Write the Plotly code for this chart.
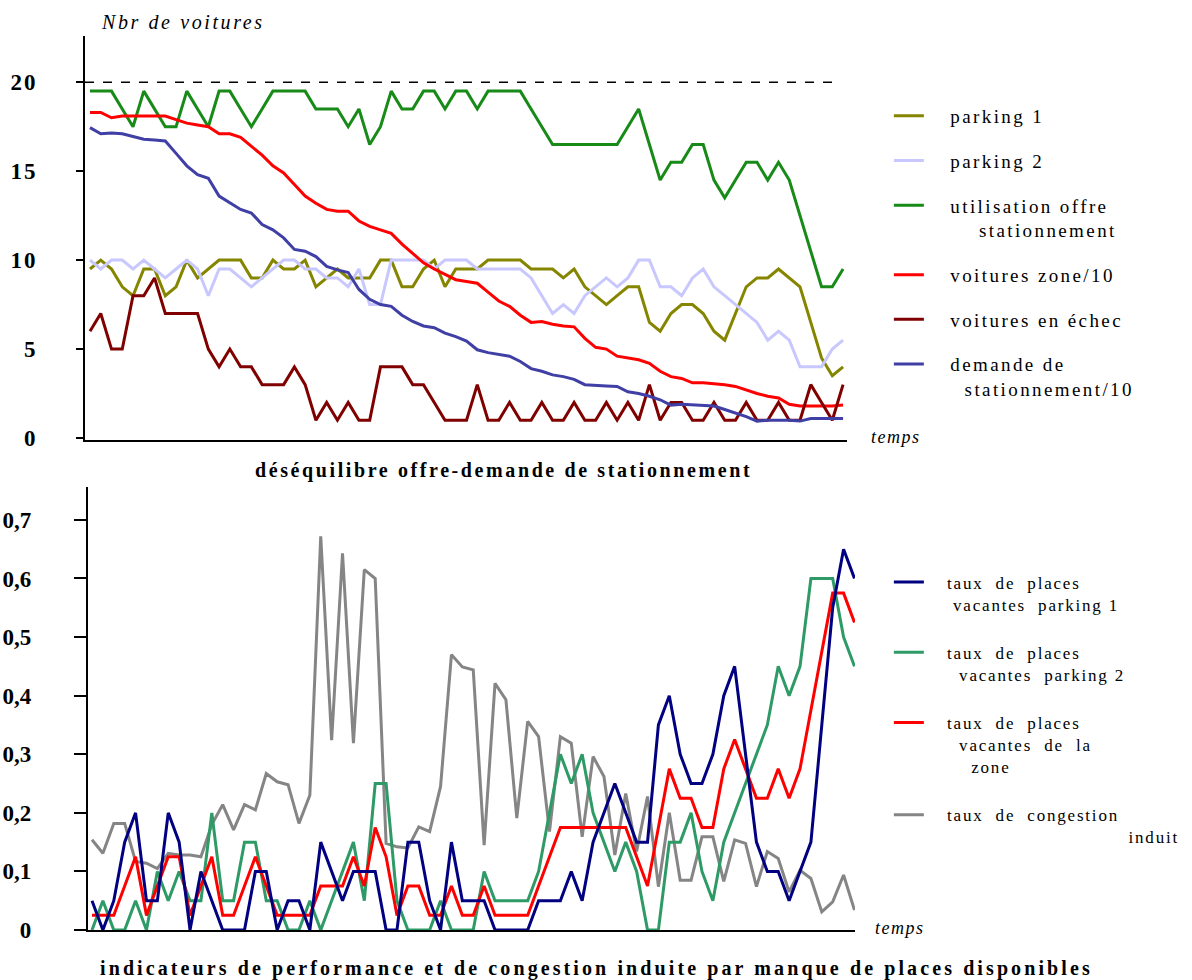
import plotly.graph_objects as go

# time steps (same for both panels)
t = list(range(71))
capacity = 20

# --- top panel : déséquilibre offre-demande ---
parking1 = [9.5, 10, 9.5, 8.5, 8, 9.5, 9.5, 8, 8.5, 10,
            9, 9.5, 10, 10, 10, 9, 9, 10, 9.5, 9.5,
            10, 8.5, 9, 9.5, 9, 9, 9, 10, 10, 8.5,
            8.5, 9.5, 10, 8.5, 9.5, 9.5, 9.5, 10, 10, 10,
            10, 9.5, 9.5, 9.5, 9, 9.5, 8.5, 8, 7.5, 8,
            8.5, 8.5, 6.5, 6, 7, 7.5, 7.5, 7, 6, 5.5,
            7, 8.5, 9, 9, 9.5, 9, 8.5, 6.5, 4.5, 3.5,
            4]
parking2 = [10, 9.5, 10, 10, 9.5, 10, 9.5, 9, 9.5, 10,
            9.5, 8, 9.5, 9.5, 9, 8.5, 9, 9.5, 10, 10,
            9.5, 9.5, 9, 9, 8.5, 9.5, 7.5, 7.5, 10, 10,
            10, 10, 9.5, 10, 10, 10, 9.5, 9.5, 9.5, 9.5,
            9.5, 9, 8, 7, 7.5, 7, 8, 8.5, 9, 8.5,
            9, 10, 10, 8.5, 8.5, 8, 9, 9.5, 8.5, 8,
            7.5, 7, 6.5, 5.5, 6, 5.5, 4, 4, 4, 5,
            5.5]
utilisation = [19.5, 19.5, 19.5, 18.5, 17.5, 19.5, 18.5, 17.5, 17.5, 19.5,
               18.5, 17.5, 19.5, 19.5, 18.5, 17.5, 18.5, 19.5, 19.5, 19.5,
               19.5, 18.5, 18.5, 18.5, 17.5, 18.5, 16.5, 17.5, 19.5, 18.5,
               18.5, 19.5, 19.5, 18.5, 19.5, 19.5, 18.5, 19.5, 19.5, 19.5,
               19.5, 18.5, 17.5, 16.5, 16.5, 16.5, 16.5, 16.5, 16.5, 16.5,
               17.5, 18.5, 16.5, 14.5, 15.5, 15.5, 16.5, 16.5, 14.5, 13.5,
               14.5, 15.5, 15.5, 14.5, 15.5, 14.5, 12.5, 10.5, 8.5, 8.5,
               9.5]
voitures_zone = [18.3, 18.3, 18.0, 18.1, 18.1, 18.1, 18.1, 18.1, 17.9, 17.7,
                 17.6, 17.5, 17.1, 17.1, 16.9, 16.4, 15.9, 15.3, 14.9, 14.25,
                 13.6, 13.2, 12.85, 12.75, 12.75, 12.2, 11.9, 11.7, 11.5, 10.9,
                 10.4, 9.85, 9.5, 9.2, 8.9, 8.8, 8.7, 8.2, 7.7, 7.4,
                 6.9, 6.5, 6.55, 6.4, 6.3, 6.25, 5.6, 5.1, 5.0, 4.6,
                 4.5, 4.4, 4.2, 3.75, 3.45, 3.35, 3.1, 3.1, 3.05, 3.0,
                 2.9, 2.7, 2.5, 2.35, 2.25, 1.9, 1.8, 1.8, 1.8, 1.8,
                 1.85]
echec = [6, 7, 5, 5, 8, 8, 9, 7, 7, 7,
         7, 5, 4, 5, 4, 4, 3, 3, 3, 4,
         3, 1, 2, 1, 2, 1, 1, 4, 4, 4,
         3, 3, 2, 1, 1, 1, 3, 1, 1, 2,
         1, 1, 2, 1, 1, 2, 1, 1, 2, 1,
         2, 1, 3, 1, 2, 2, 1, 1, 2, 1,
         1, 2, 1, 1, 2, 1, 1, 3, 2, 1,
         3]
demande = [17.45, 17.1, 17.15, 17.1, 16.95, 16.8, 16.75, 16.7, 16.0, 15.3,
           14.8, 14.6, 13.6, 13.2, 12.85, 12.65, 12.0, 11.7, 11.25, 10.6,
           10.5, 10.2, 9.65, 9.45, 9.3, 8.35, 7.8, 7.5, 7.4, 6.9,
           6.55, 6.3, 6.2, 5.9, 5.7, 5.45, 4.96, 4.8, 4.7, 4.6,
           4.3, 3.9, 3.75, 3.55, 3.45, 3.3, 3.0, 2.95, 2.93, 2.9,
           2.6, 2.5, 2.35, 2.15, 1.85, 1.9, 1.86, 1.86, 1.8, 1.6,
           1.4, 1.2, 0.95, 1.0, 1.0, 1.0, 0.95, 1.1, 1.1, 1.1,
           1.1]
top_ticks = [0, 5, 10, 15, 20]

# --- bottom panel : indicateurs ---
vac_p1 = [0.05, 0, 0.05, 0.15, 0.2, 0.05, 0.05, 0.2, 0.15, 0,
          0.1, 0.05, 0, 0, 0, 0.1, 0.1, 0, 0.05, 0.05,
          0, 0.15, 0.1, 0.05, 0.1, 0.1, 0.1, 0, 0, 0.15,
          0.15, 0.05, 0, 0.15, 0.05, 0.05, 0.05, 0, 0, 0,
          0, 0.05, 0.05, 0.05, 0.1, 0.05, 0.15, 0.2, 0.25, 0.2,
          0.15, 0.15, 0.35, 0.4, 0.3, 0.25, 0.25, 0.3, 0.4, 0.45,
          0.3, 0.15, 0.1, 0.1, 0.05, 0.1, 0.15, 0.35, 0.55, 0.65,
          0.6]
vac_p2 = [0, 0.05, 0, 0, 0.05, 0, 0.1, 0.05, 0.1, 0.05,
          0.05, 0.2, 0.05, 0.05, 0.15, 0.15, 0.05, 0.05, 0, 0,
          0.05, 0, 0.05, 0.1, 0.15, 0.05, 0.25, 0.25, 0.05, 0,
          0, 0, 0.05, 0, 0, 0, 0.1, 0.05, 0.05, 0.05,
          0.05, 0.1, 0.2, 0.3, 0.25, 0.3, 0.2, 0.15, 0.1, 0.15,
          0.1, 0, 0, 0.15, 0.15, 0.2, 0.1, 0.05, 0.15, 0.2,
          0.25, 0.3, 0.35, 0.45, 0.4, 0.45, 0.6, 0.6, 0.6, 0.5,
          0.45]
vac_zone = [0.025, 0.025, 0.025, 0.075, 0.125, 0.025, 0.075, 0.125, 0.125, 0.025,
            0.075, 0.125, 0.025, 0.025, 0.075, 0.125, 0.075, 0.025, 0.025, 0.025,
            0.025, 0.075, 0.075, 0.075, 0.125, 0.075, 0.175, 0.125, 0.025, 0.075,
            0.075, 0.025, 0.025, 0.075, 0.025, 0.025, 0.075, 0.025, 0.025, 0.025,
            0.025, 0.075, 0.125, 0.175, 0.175, 0.175, 0.175, 0.175, 0.175, 0.175,
            0.125, 0.075, 0.175, 0.275, 0.225, 0.225, 0.175, 0.175, 0.275, 0.325,
            0.275, 0.225, 0.225, 0.275, 0.225, 0.275, 0.375, 0.475, 0.575, 0.575,
            0.525]
congestion = [0.154, 0.131, 0.182, 0.182, 0.117, 0.114, 0.105, 0.131, 0.128, 0.128,
              0.125, 0.18, 0.214, 0.171, 0.214, 0.205, 0.267, 0.253, 0.248, 0.182,
              0.23, 0.672, 0.324, 0.643, 0.319, 0.615, 0.60, 0.148, 0.142, 0.14,
              0.176, 0.168, 0.245, 0.47, 0.449, 0.444, 0.145, 0.421, 0.393, 0.191,
              0.356, 0.33, 0.168, 0.33, 0.319, 0.159, 0.296, 0.262, 0.128, 0.233,
              0.134, 0.228, 0.074, 0.2, 0.085, 0.085, 0.159, 0.159, 0.083, 0.154,
              0.148, 0.074, 0.134, 0.122, 0.065, 0.102, 0.088, 0.031, 0.048, 0.094,
              0.034]

bottom_ticks = [0, 0.1, 0.2, 0.3, 0.4, 0.5, 0.6, 0.7]
bottom_ticktext = ["0", "0,1", "0,2", "0,3", "0,4", "0,5", "0,6", "0,7"]

SERIF = "Liberation Serif"
NB = "\u00a0"


def sp(text, px=2):
    return f'<span style="letter-spacing:{px}px">{text}</span>'


fig = go.Figure()

top_series = [
    ("parking 1", parking1, "#858500", 1),
    ("parking 2", parking2, "#c8c8ff", 2),
    ("utilisation offre<br>" + NB * 7 + "stationnement", utilisation, "#178a17", 3),
    ("voitures zone/10", voitures_zone, "#ff0000", 4),
    ("voitures en échec", echec, "#800000", 5),
    ("demande de<br>" + NB * 5 + "stationnement/10", demande, "#3f3fa6", 6),
]
for name, vals, col, rank in top_series:
    fig.add_trace(go.Scatter(
        x=t, y=vals, mode="lines", name=sp(NB * 3 + name, 2.4),
        line=dict(color=col, width=3), xaxis="x", yaxis="y",
        legend="legend", legendgroup=f"top{rank}", legendrank=rank,
        hoverinfo="skip"))

bottom_series = [
    (congestion, "#858585", 4,
     "taux" + NB * 2 + "de" + NB * 2 + "congestion<br>" + NB * 33 + "induit"),
    (vac_p2, "#2e9a66", 2,
     "taux" + NB * 2 + "de" + NB * 2 + "places<br>" + NB * 5 + "vacantes" + NB * 2 + "parking 2"),
    (vac_zone, "#ff0000", 3,
     "taux" + NB * 2 + "de" + NB * 2 + "places<br>" + NB * 5 + "vacantes" + NB * 2 + "de" + NB * 2 + "la<br>" + NB * 7 + "zone"),
    (vac_p1, "#000080", 1,
     "taux" + NB * 2 + "de" + NB * 2 + "places<br>" + NB * 4 + "vacantes" + NB * 2 + "parking 1"),
]
for vals, col, rank, label in bottom_series:
    fig.add_trace(go.Scatter(
        x=t, y=vals, mode="lines", name=sp(NB * 3 + label, 1.8),
        line=dict(color=col, width=3), xaxis="x2", yaxis="y2",
        legend="legend2", legendgroup=f"bot{rank}", legendrank=rank,
        hoverinfo="skip"))

axis_line = dict(showline=True, linecolor="black", linewidth=2,
                 showgrid=False, zeroline=False, automargin=False)
tickfont = dict(family=SERIF, size=23, color="black", weight="bold")


def note(text, x, y, size, **font):
    return dict(text=text, x=x, y=y, xref="paper", yref="paper",
                xanchor="center", yanchor="middle", showarrow=False,
                font=dict(family=SERIF, size=size, **font))


fig.update_layout(
    width=1192, height=980,
    margin=dict(l=0, r=0, t=0, b=0, autoexpand=False),
    paper_bgcolor="white", plot_bgcolor="white",
    font=dict(family=SERIF, color="black"),
    xaxis=dict(domain=[0.0713, 0.7106], range=[-0.465, 70.37], anchor="y",
               showticklabels=False, ticks="", **axis_line),
    yaxis=dict(domain=[0.551, 0.9633], range=[-0.113, 22.6], anchor="x",
               tickvals=top_ticks, ticktext=[sp(str(v), 2) for v in top_ticks],
               ticks="outside", ticklen=7,
               tickwidth=2, tickcolor="black", tickfont=tickfont,
               ticklabelstandoff=34, **axis_line),
    xaxis2=dict(domain=[0.0738, 0.7173], range=[-0.37, 70.05], anchor="y2",
                showticklabels=False, ticks="", **axis_line),
    yaxis2=dict(domain=[0.051, 0.503], range=[0, 0.756], anchor="x2",
                tickvals=bottom_ticks, ticktext=bottom_ticktext,
                ticks="outside", ticklen=12, tickwidth=2, tickcolor="black",
                tickfont=tickfont, ticklabelstandoff=38, **axis_line),
    legend=dict(x=0.7457, y=0.901, xanchor="left", yanchor="top",
                font=dict(family=SERIF, size=19, color="black"),
                valign="top", tracegroupgap=17, bgcolor="rgba(0,0,0,0)"),
    legend2=dict(x=0.7457, y=0.424, xanchor="left", yanchor="top",
                 font=dict(family=SERIF, size=17, color="black"),
                 valign="top", tracegroupgap=23, bgcolor="rgba(0,0,0,0)"),
    shapes=[dict(type="line", xref="x domain", yref="y", x0=0, x1=0.984,
                 y0=capacity, y1=capacity,
                 line=dict(color="black", width=1.5, dash="dash"))],
    annotations=[
        note(sp("Nbr de voitures", 2.6), 0.1535, 0.9776, 20, style="italic"),
        note(sp("temps", 1.5), 0.7517, 0.554, 18, style="italic"),
        note(sp("temps", 1.5), 0.755, 0.053, 18, style="italic"),
        note(sp("<b>déséquilibre offre-demande de stationnement</b>", 2.6),
             0.422, 0.5204, 20),
        note(sp("<b>indicateurs de performance et de congestion induite par manque de places disponibles</b>", 3.1),
             0.5008, 0.0122, 20),
    ],
)

# the page body keeps its default 8px margin otherwise
fig.write_html("out.html", config={"displayModeBar": False},
               post_script="document.body.style.margin='0';")
